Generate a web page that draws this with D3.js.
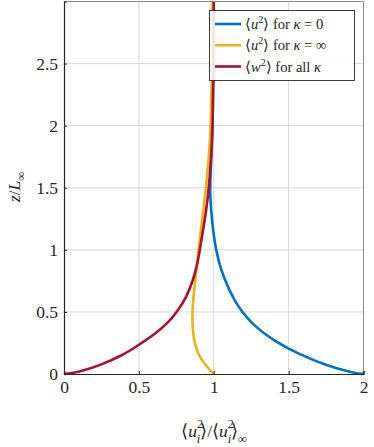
<!DOCTYPE html>
<html>
<head>
<meta charset="utf-8">
<script src="https://cdn.jsdelivr.net/npm/d3@7"></script>
<style>
  body { margin: 0; background: #fff; }
  svg { display: block; }
</style>
</head>
<body>
<svg id="chart" width="374" height="447" font-family="Liberation Serif"></svg>
<script>
// <u^2> for kappa = 0
const zBlue = [0, 0.005, 0.019, 0.073, 0.153, 0.26, 0.41, 0.597, 0.785, 0.9, 1.0, 1.16, 1.32, 1.45, 1.6, 1.75, 2.0, 2.5, 3.0];
const uBlue = [2.0, 1.954, 1.9, 1.745, 1.58, 1.41, 1.243, 1.131, 1.064, 1.035, 1.015, 0.995, 0.982, 0.975, 0.978, 0.984, 0.993, 0.999, 1.0];

// <u^2> for kappa = infinity
const zYellow = [0, 0.059, 0.127, 0.22, 0.355, 0.49, 0.623, 0.81, 1.0, 1.16, 1.32, 1.5, 1.75, 2.0, 2.5, 3.0];
const uYellow = [1.0, 0.955, 0.91, 0.876, 0.858, 0.856, 0.864, 0.882, 0.898, 0.914, 0.931, 0.948, 0.968, 0.981, 0.988, 0.992];

// <w^2> for all kappa
const zRed = [0, 0.005, 0.015, 0.035, 0.073, 0.15, 0.234, 0.328, 0.42, 0.5, 0.623, 0.75, 0.87, 1.0, 1.16, 1.32, 1.5, 1.75, 2.0, 2.5, 3.0];
const wRed = [0, 0.04, 0.085, 0.15, 0.245, 0.39, 0.5, 0.615, 0.7, 0.755, 0.82, 0.86, 0.888, 0.907, 0.929, 0.95, 0.968, 0.983, 0.993, 0.999, 1.0];

const xTicks = [0, 0.5, 1, 1.5, 2];
const yTicks = [0, 0.5, 1, 1.5, 2, 2.5];

const series = [
  { z: zBlue, v: uBlue, color: '#0072BD',
    label: [['⟨', ''], ['u', 'i'], ['2', 'sup'], ['⟩ for ', ''], ['κ', 'i'], [' = 0', '']] },
  { z: zYellow, v: uYellow, color: '#EDB120',
    label: [['⟨', ''], ['u', 'i'], ['2', 'sup'], ['⟩ for ', ''], ['κ', 'i'], [' = ∞', '']] },
  { z: zRed, v: wRed, color: '#A2142F',
    label: [['⟨', ''], ['w', 'i'], ['2', 'sup'], ['⟩ for all ', ''], ['κ', 'i']] }
];

const FONT = 'Liberation Serif';
const ink = '#262626';

const svg = d3.select('#chart');
const plotLeft = 64, plotRight = 363.5, plotTop = 1.5, plotBottom = 374;

const x = d3.scaleLinear().domain([0, 2]).range([plotLeft, plotRight]);
const y = d3.scaleLinear().domain([0, 3]).range([plotBottom, plotTop]);

// mixed italic / super / subscript text
function rich(sel, parts, size, supShift = 0.4, subShift = 0.28) {
  let shift = 0;
  parts.forEach(([t, kind]) => {
    const flags = kind.split(' ');
    const sp = sel.append('tspan').text(t).attr('font-family', FONT);
    let target = 0;
    if (flags.includes('sup')) target = -supShift * size;
    if (flags.includes('sub')) target = subShift * size;
    sp.attr('dy', target - shift);
    shift = target;
    if (flags.includes('i')) sp.attr('font-style', 'italic');
    if (flags.includes('sup') || flags.includes('sub')) sp.attr('font-size', size * 0.7);
    if (flags.includes('back')) sp.attr('dx', -size * 0.36);
  });
}

// grid
svg.append('g')
  .selectAll('line')
  .data(xTicks.slice(1, -1))
  .join('line')
  .attr('x1', d => x(d)).attr('x2', d => x(d))
  .attr('y1', plotTop).attr('y2', plotBottom)
  .attr('stroke', '#d6d6d6').attr('stroke-width', 1);

svg.append('g')
  .selectAll('line')
  .data(yTicks.slice(1))
  .join('line')
  .attr('x1', plotLeft).attr('x2', plotRight)
  .attr('y1', d => y(d)).attr('y2', d => y(d))
  .attr('stroke', '#d6d6d6').attr('stroke-width', 1);

// curves
const line = d3.line()
  .x(d => x(d[1]))
  .y(d => y(d[0]))
  .curve(d3.curveBasis);

series.forEach(s => {
  svg.append('path')
    .datum(d3.zip(s.z, s.v))
    .attr('d', line)
    .attr('fill', 'none')
    .attr('stroke', s.color)
    .attr('stroke-width', 2.6);
});

// box
svg.append('path')
  .attr('d', `M${plotLeft},${plotTop}H${plotRight}V${plotBottom}`)
  .attr('fill', 'none').attr('stroke', '#8a8a8a').attr('stroke-width', 1);

// axes
const fontSize = 17.5;
const xAxis = svg.append('g')
  .attr('transform', `translate(0,${plotBottom})`)
  .call(d3.axisBottom(x).tickValues(xTicks).tickSize(-3).tickPadding(7).tickFormat(d3.format('')));
const yAxis = svg.append('g')
  .attr('transform', `translate(${plotLeft},0)`)
  .call(d3.axisLeft(y).tickValues(yTicks).tickSize(-3).tickPadding(6).tickFormat(d3.format('')));

[xAxis, yAxis].forEach(g => {
  g.attr('font-family', FONT).attr('font-size', fontSize);
  g.select('.domain').attr('stroke', ink).attr('stroke-width', 1.2);
  g.selectAll('.tick line').attr('stroke', ink);
  g.selectAll('.tick text')
    .attr('fill', ink)
    .attr('font-family', FONT)
    .attr('font-size', fontSize);
});

// axis labels
const xl = svg.append('text')
  .attr('x', 214).attr('y', 437)
  .attr('text-anchor', 'middle').attr('fill', ink)
  .attr('font-family', FONT)
  .attr('font-size', fontSize);
rich(xl, [['⟨', ''], ['u', 'i'], ['2', 'sup'], ['i', 'sub i back'], ['⟩/⟨', ''], ['u', 'i'],
          ['2', 'sup'], ['i', 'sub i back'], ['⟩', ''], ['∞', 'sub']], fontSize, 0.5, 0.36);

const yl = svg.append('text')
  .attr('transform', 'translate(20,187) rotate(-90)')
  .attr('text-anchor', 'middle').attr('fill', ink)
  .attr('font-family', FONT)
  .attr('font-size', fontSize);
rich(yl, [['z', 'i'], ['/', ''], ['L', 'i'], ['∞', 'sub']], fontSize);

// legend
const legend = svg.append('g');
legend.append('rect')
  .attr('x', 209.5).attr('y', 10.5)
  .attr('width', 145).attr('height', 70)
  .attr('fill', '#fff').attr('fill-opacity', 0.88)
  .attr('stroke', ink).attr('stroke-width', 0.9);

const legendY = d3.scalePoint().domain(d3.range(series.length)).range([24, 66.5]);
series.forEach((s, i) => {
  legend.append('line')
    .attr('x1', 215).attr('x2', 241)
    .attr('y1', legendY(i)).attr('y2', legendY(i))
    .attr('stroke', s.color).attr('stroke-width', 2.6);
  const t = legend.append('text')
    .attr('x', 245).attr('y', legendY(i) + 5).attr('fill', ink)
    .attr('font-family', FONT)
    .attr('font-size', 14.5);
  rich(t, s.label, 14.5);
});
</script>
</body>
</html>
